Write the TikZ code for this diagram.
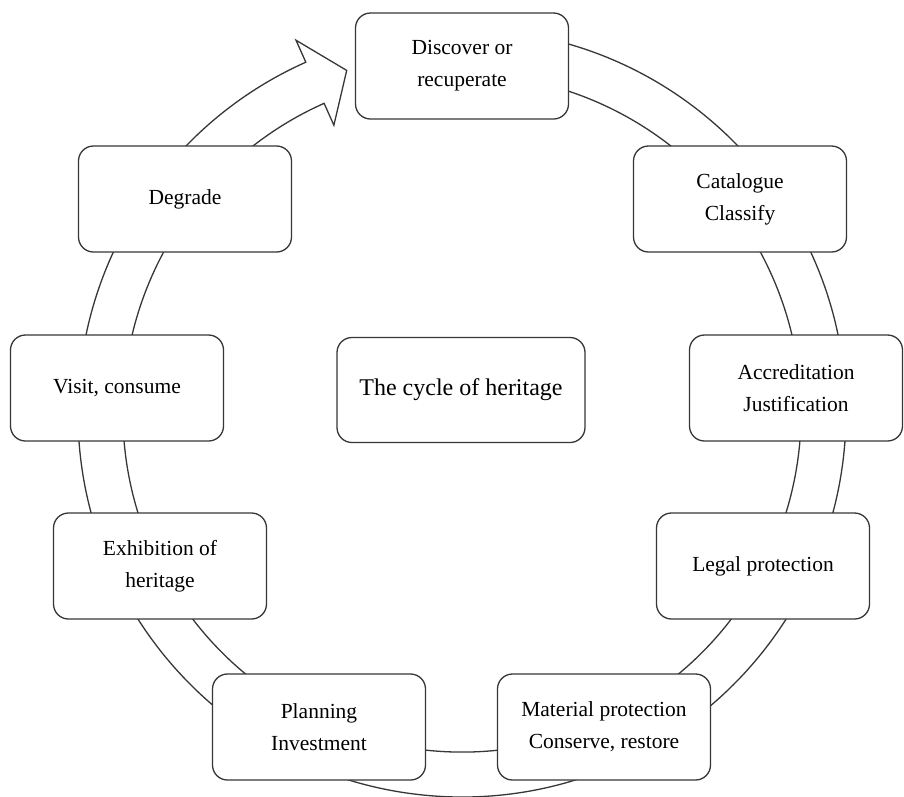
\documentclass[tikz,border=0pt]{standalone}
\usepackage{fontspec}
\setmainfont{Liberation Serif}
\definecolor{CycLine}{RGB}{55,55,55}
\usetikzlibrary{calc}
\tikzset{
    stage/.style={rectangle, rounded corners=15pt, draw=CycLine, line width=1.3pt, fill=white,
        minimum width=213pt, minimum height=106pt, align=center,
        font=\fontsize{21.5}{32}\selectfont},
    ring/.style={draw=CycLine, line width=1.3pt, fill=white},
}

\begin{document}
\begin{tikzpicture}[x=1pt, y=1pt]
    \fill[white] (0,0) rectangle (904,-796);
    \useasboundingbox (0,0) rectangle (904,-796);
    % the big circular arrow, running clockwise behind the stages
    \begin{scope}[shift={(462,-413)}]
        \draw[ring] (85:384) arc[start angle=85, end angle=-246, radius=384]
            -- (114:408) -- (108.6:361.5) -- (114:315) -- (114:339)
            arc[start angle=-246, end angle=85, radius=339] -- cycle;
    \end{scope}
    % stages of the cycle
    \node[stage] (disc) at (462,-66) {Discover or\\recuperate};
    \node[stage] (cat) at (740,-199) {Catalogue\\Classify};
    \node[stage] (accr) at (796,-388) {Accreditation\\Justification};
    \node[stage] (legal) at (763,-566) {Legal protection};
    \node[stage] (mat) at (604,-727) {Material protection\\Conserve, restore};
    \node[stage] (plan) at (319,-727) {Planning\\Investment};
    \node[stage] (exhib) at (160,-566) {Exhibition of\\heritage};
    \node[stage] (visit) at (117,-388) {Visit, consume};
    \node[stage] (degr) at (185,-199) {Degrade};
    % title in the middle
    \node[stage, minimum width=248pt, minimum height=105pt, font=\fontsize{24}{30}\selectfont] (cyc) at (461,-390) {The cycle of heritage};
\end{tikzpicture}
\end{document}
